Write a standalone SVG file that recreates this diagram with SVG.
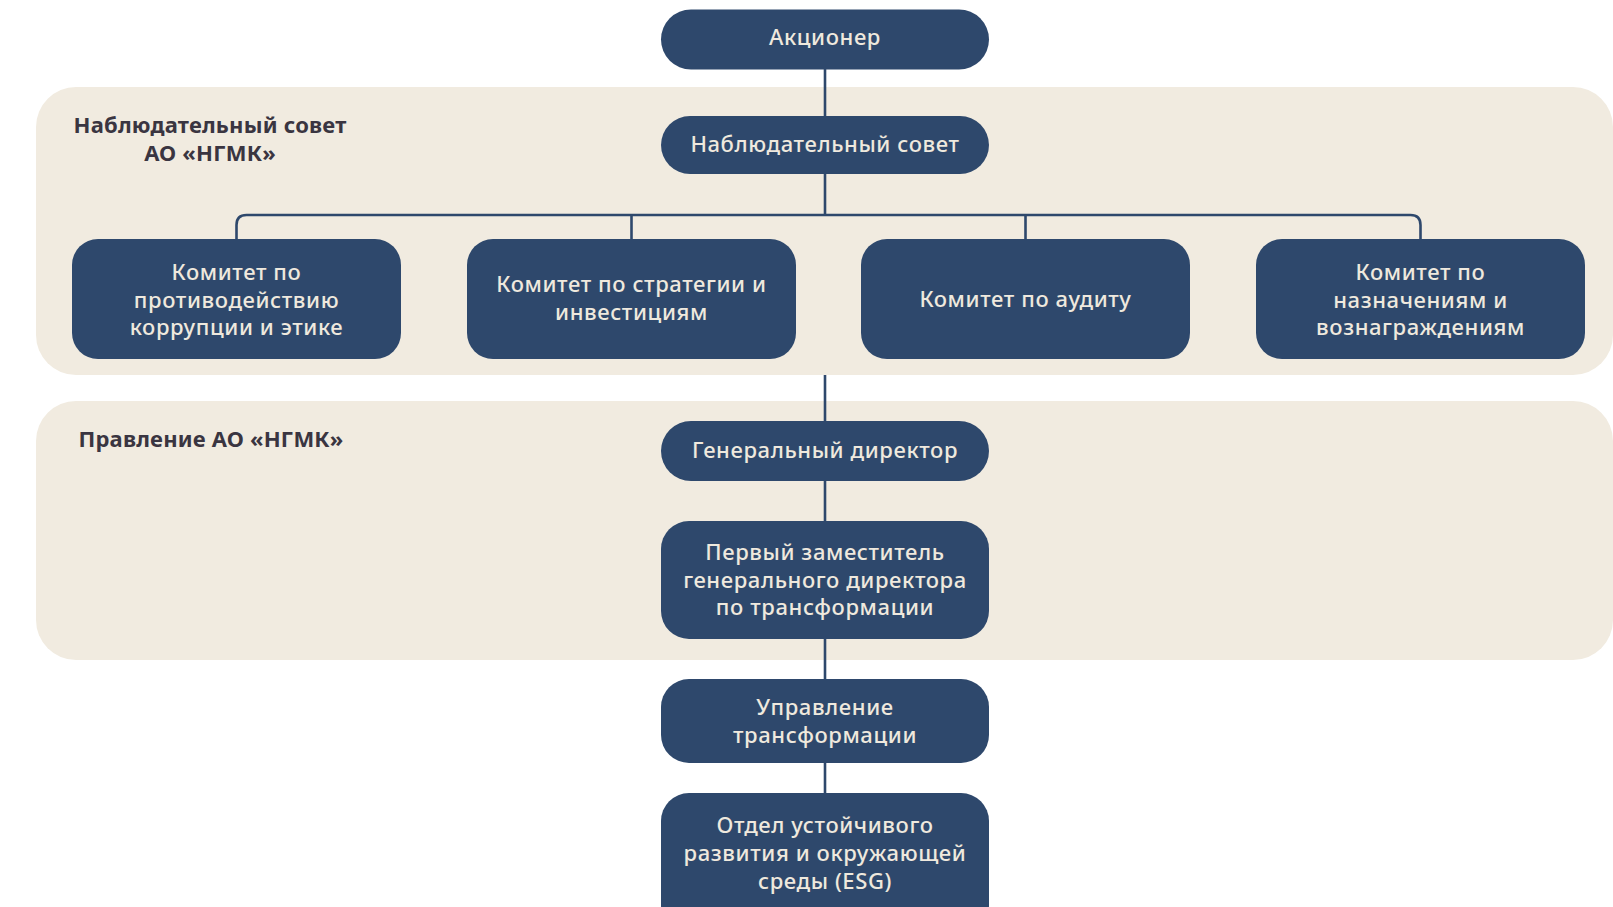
<svg xmlns="http://www.w3.org/2000/svg" width="1613" height="907" viewBox="0 0 1613 907">
<style>
.panel{fill:#f1ebe0}
.node rect{fill:#2e486c}
.node text{fill:#efe9de;font-family:"Noto Sans","DejaVu Sans",sans-serif;font-weight:500;font-size:22px;text-anchor:middle;letter-spacing:0.6px}
.lbl{fill:#3a3541;font-family:"Noto Sans","DejaVu Sans",sans-serif;font-weight:700;font-size:22px;text-anchor:middle;letter-spacing:0.2px}
.conn{stroke:#2e486c;stroke-width:2.6;fill:none}
</style>
<rect width="1613" height="907" fill="#ffffff"/>
<g id="panels">
<rect class="panel" x="36" y="87" width="1577" height="288" rx="40"/>
<rect class="panel" x="36" y="401" width="1577" height="259" rx="40"/>
<text class="lbl" x="210" y="133">Наблюдательный совет</text>
<text class="lbl" x="210" y="161">АО «НГМК»</text>
<text class="lbl" x="211" y="447">Правление АО «НГМК»</text>
</g>
<g id="connectors">
<path class="conn" d="M825 69V116"/>
<path class="conn" d="M825 174V215"/>
<path class="conn" d="M236.5 239V225Q236.5 215 246.5 215H1410.5Q1420.5 215 1420.5 225V239"/>
<path class="conn" d="M631.5 215V239"/>
<path class="conn" d="M1025.5 215V239"/>
<path class="conn" d="M825 375V421"/>
<path class="conn" d="M825 481V521"/>
<path class="conn" d="M825 639V679"/>
<path class="conn" d="M825 763V793"/>
</g>
<g id="n-akcioner" class="node">
<rect x="661" y="9.5" width="328" height="60" rx="30"/>
<text x="825" y="45">Акционер</text>
</g>
<g id="n-nabsovet" class="node">
<rect x="661" y="116" width="328" height="58" rx="29"/>
<text x="825" y="152">Наблюдательный совет</text>
</g>
<g id="n-kom1" class="node">
<rect x="72" y="239" width="329" height="120" rx="26"/>
<text x="236.5" y="280">Комитет по</text>
<text x="236.5" y="307.5">противодействию</text>
<text x="236.5" y="335">коррупции и этике</text>
</g>
<g id="n-kom2" class="node">
<rect x="467" y="239" width="329" height="120" rx="26"/>
<text x="631.5" y="292">Комитет по стратегии и</text>
<text x="631.5" y="320">инвестициям</text>
</g>
<g id="n-kom3" class="node">
<rect x="861" y="239" width="329" height="120" rx="26"/>
<text x="1025.5" y="306.5">Комитет по аудиту</text>
</g>
<g id="n-kom4" class="node">
<rect x="1256" y="239" width="329" height="120" rx="26"/>
<text x="1420.5" y="280">Комитет по</text>
<text x="1420.5" y="307.5">назначениям и</text>
<text x="1420.5" y="335">вознаграждениям</text>
</g>
<g id="n-gendir" class="node">
<rect x="661" y="421" width="328" height="60" rx="30"/>
<text x="825" y="458">Генеральный директор</text>
</g>
<g id="n-perv" class="node">
<rect x="661" y="521" width="328" height="118" rx="28"/>
<text x="825" y="560">Первый заместитель</text>
<text x="825" y="587.5">генерального директора</text>
<text x="825" y="615">по трансформации</text>
</g>
<g id="n-upr" class="node">
<rect x="661" y="679" width="328" height="84" rx="28"/>
<text x="825" y="715">Управление</text>
<text x="825" y="743">трансформации</text>
</g>
<g id="n-esg" class="node">
<rect x="661" y="793" width="328" height="140" rx="28"/>
<text x="825" y="833">Отдел устойчивого</text>
<text x="825" y="861">развития и окружающей</text>
<text x="825" y="889">среды (ESG)</text>
</g>
</svg>
